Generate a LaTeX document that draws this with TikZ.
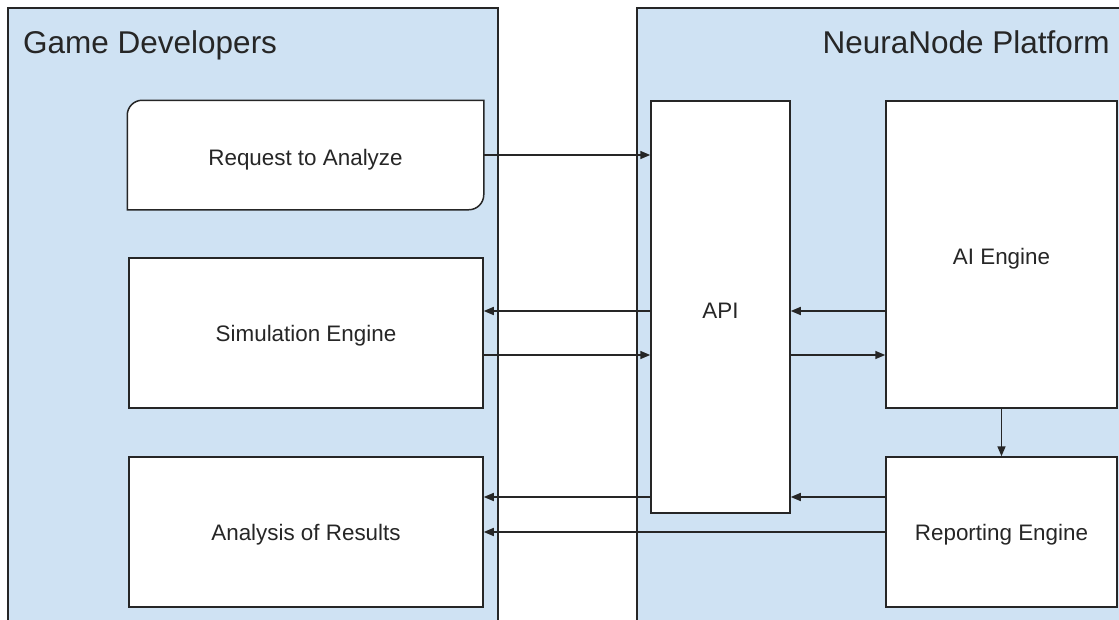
\documentclass[tikz,border=0pt]{standalone}
\usepackage{fontspec}
\setmainfont{Liberation Sans}
\usetikzlibrary{arrows.meta,calc}
\definecolor{laneblue}{HTML}{CFE2F3}
\definecolor{ink}{HTML}{262626}
\tikzset{
  lane/.style={draw=ink, line width=1.5pt, fill=laneblue, anchor=north west, inner sep=0pt},
  lanetitle/.style={inner sep=0pt, text=ink, font=\fontsize{31.5}{36}\selectfont},
  block/.style={draw=ink, line width=1.5pt, fill=white, inner sep=0pt, text=ink,
                text depth=0pt, font=\fontsize{22.4}{27}\selectfont},
  arr/.style={draw=ink, line width=1.6pt, -{Triangle[length=10pt,width=8pt]}}
}
\begin{document}
\begin{tikzpicture}[x=1pt,y=-1pt]
\useasboundingbox (0,0) rectangle (1119,619);
\clip (0,0) rectangle (1119,619);

% swimlanes
\node[lane, minimum width=490pt, minimum height=640pt] (dev) at (7,7) {};
\node[lane, minimum width=500pt, minimum height=640pt] (plat) at (636,7) {};
\node[lanetitle, anchor=base west] (devtitle) at (23,53) {Game Developers};
\node[lanetitle, anchor=base east] (plattitle) at (1110,53) {NeuraNode Platform};

% developer side
\node[block, draw=none, fill=none, minimum width=355pt, minimum height=108pt] (req) at (305.5,155) {};
\draw[line width=1.5pt, draw=ink, fill=white]
  (req.south west) -- ([yshift=-15pt]req.north west) to[out=90,in=180] ([xshift=15pt]req.north west)
  -- (req.north east) -- ([yshift=15pt]req.south east) to[out=270,in=0] ([xshift=-15pt]req.south east)
  -- cycle;
\node[text=ink, font=\fontsize{22.4}{27}\selectfont, text depth=0pt, inner sep=0pt] (reqtext) at ($(req.center)+(0,2)$) {Request to Analyze};

\node[block, minimum width=354pt, minimum height=150pt] (sim) at (306,333) {Simulation Engine};
\node[block, minimum width=354pt, minimum height=150pt] (ana) at (306,532) {Analysis of Results};

% platform side
\node[block, minimum width=139pt, minimum height=412pt] (api) at (720.5,307) {};
\node[text=ink, font=\fontsize{22.4}{27}\selectfont, text depth=0pt, inner sep=0pt] (apitext) at (720.5,311) {API};
\node[block, minimum width=231pt, minimum height=307pt] (ai) at (1001.5,254.5) {};
\node[text=ink, font=\fontsize{22.4}{27}\selectfont, text depth=0pt, inner sep=0pt] (aitext) at (1001.5,256) {AI Engine};
\node[block, minimum width=231pt, minimum height=150pt] (rep) at (1001.5,532) {Reporting Engine};

% connector rows
\coordinate (rowA) at ($(sim.east)+(0,-22)$);
\coordinate (rowB) at ($(sim.east)+(0,22)$);
\coordinate (rowC) at ($(rep.west)+(0,-35)$);

\draw[arr] (req.east) -- (req.east -| api.west);
\draw[arr] (api.west |- rowA) -- (rowA);
\draw[arr] (rowB) -- (rowB -| api.west);
\draw[arr] (ai.west |- rowA) -- (api.east |- rowA);
\draw[arr] (api.east |- rowB) -- (ai.west |- rowB);
\draw[arr] (ai.south) -- (rep.north);
\draw[arr] (rowC) -- (rowC -| api.east);
\draw[arr] (api.west |- rowC) -- (ana.east |- rowC);
\draw[arr] (rep.west) -- (ana.east);
\end{tikzpicture}
\end{document}
